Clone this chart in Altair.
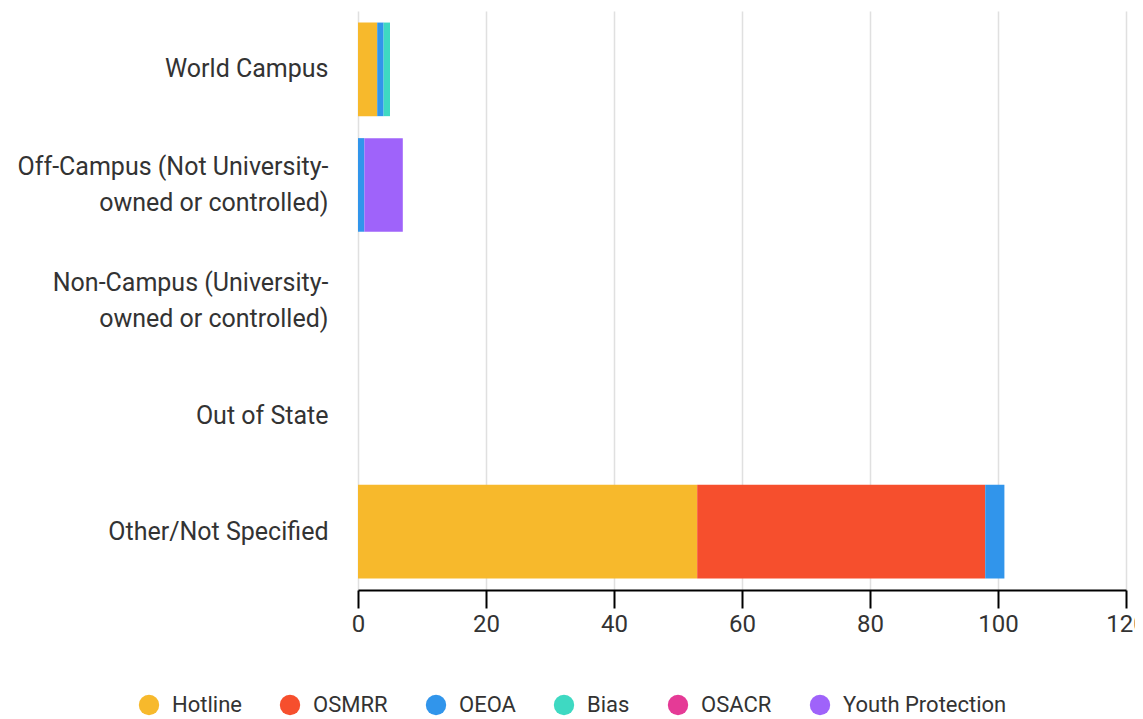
import altair as alt
import pandas as pd

locations = [
    "World Campus",
    "Off-Campus (Not University-|owned or controlled)",
    "Non-Campus (University-|owned or controlled)",
    "Out of State",
    "Other/Not Specified",
]
series = ["Hotline", "OSMRR", "OEOA", "Bias", "OSACR", "Youth Protection"]
colors = ["#F7B92C", "#F64F2D", "#3195EB", "#3ED9C2", "#E53A96", "#9F63FA"]

hotline = [3, 0, 0, 0, 53]
osmrr = [0, 0, 0, 0, 45]
oeoa = [1, 1, 0, 0, 3]
bias = [1, 0, 0, 0, 0]
osacr = [0, 0, 0, 0, 0]
youth = [0, 6, 0, 0, 0]

values = [hotline, osmrr, oeoa, bias, osacr, youth]
rows = []
for si, (s, vals) in enumerate(zip(series, values)):
    for loc, v in zip(locations, vals):
        rows.append({"location": loc, "series": s, "order": si, "value": v})
df = pd.DataFrame(rows)

chart = (
    alt.Chart(df)
    .mark_bar()
    .encode(
        y=alt.Y(
            "location:N",
            sort=locations,
            scale=alt.Scale(domain=locations, paddingInner=0.19, paddingOuter=0.1),
            axis=alt.Axis(
                title=None,
                domain=False,
                ticks=False,
                grid=False,
                labelFontSize=25,
                labelFont="Roboto",
                labelColor="#333333",
                labelPadding=30,
                labelLineHeight=36,
                labelLimit=400,
                labelOffset={
                    "condition": {"test": "indexof(datum.value, '|') >= 0", "value": -18},
                    "value": 0,
                },
                labelExpr="split(datum.label, '|')",
            ),
        ),
        x=alt.X(
            "value:Q",
            stack="zero",
            scale=alt.Scale(domain=[0, 120], nice=False),
            axis=alt.Axis(
                title=None,
                values=[0, 20, 40, 60, 80, 100, 120],
                labelFontSize=24,
                labelFont="Roboto",
                labelColor="#333333",
                labelFlush=False,
                domainColor="#000000",
                domainWidth=2,
                tickColor="#000000",
                tickWidth=2,
                tickSize=18,
                labelPadding=4,
                gridColor="#e0e0e0",
                gridWidth=1.5,
            ),
        ),
        color=alt.Color(
            "series:N",
            scale=alt.Scale(domain=series, range=colors),
            sort=series,
            legend=alt.Legend(
                title=None,
                orient="none",
                direction="horizontal",
                legendX=-220,
                legendY=683,
                symbolType="circle",
                symbolSize=415,
                symbolStrokeWidth=0,
                symbolOpacity=1,
                labelFontSize=22,
                labelFont="Roboto",
                labelColor="#333333",
                labelOffset=12,
                columnPadding=37,
                labelLimit=300,
            ),
        ),
        order=alt.Order("order:Q", sort="ascending"),
    )
    .properties(
        width=768,
        height=579,
        padding={"left": 350, "top": 3, "right": 9, "bottom": 127},
        autosize=alt.AutoSizeParams(type="none"),
    )
    .configure_view(stroke=None)
)

chart.save("out.html", embed_options={"renderer": "svg", "actions": False})
